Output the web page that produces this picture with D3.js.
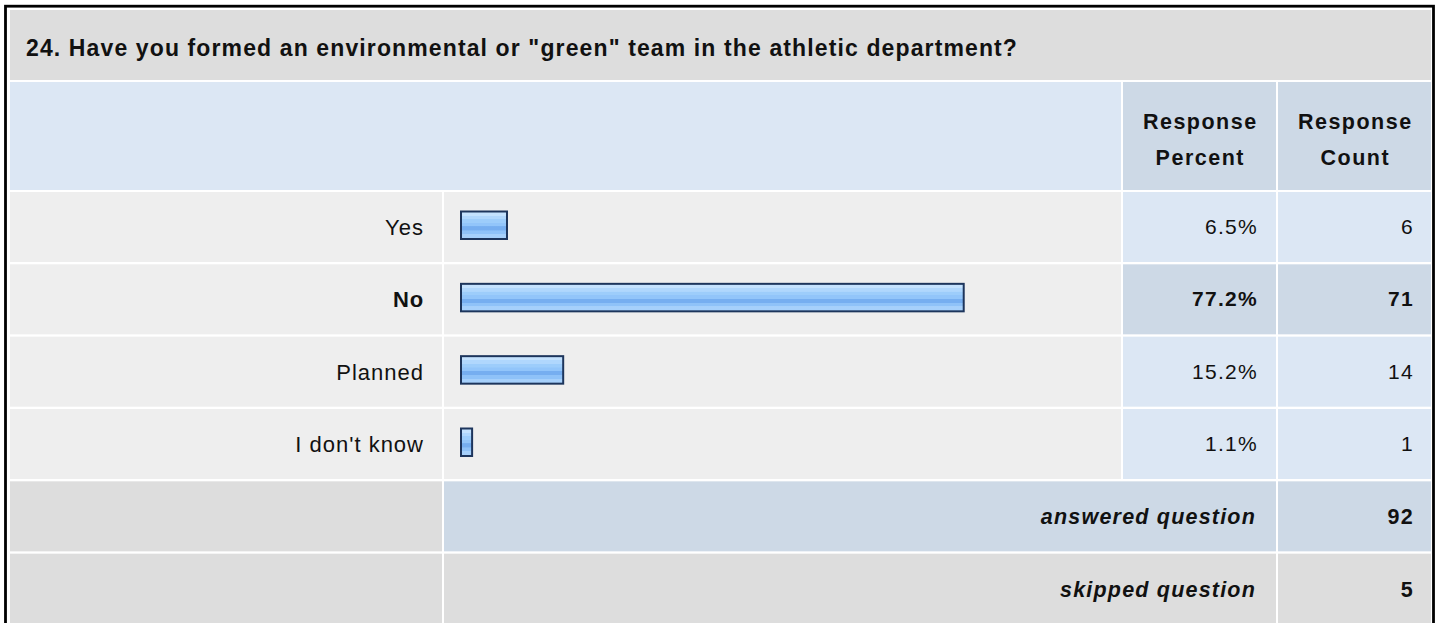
<!DOCTYPE html>
<html>
<head>
<meta charset="utf-8">
<script src="https://cdn.jsdelivr.net/npm/d3@7"></script>
<style>
  html, body { margin: 0; padding: 0; background: #ffffff; }
  svg { display: block; }
  text { font-family: "Liberation Sans", Arial, Helvetica, sans-serif; fill: #111; }
</style>
</head>
<body>
<svg id="chart" width="1440" height="623"></svg>
<script>
// ---------- data ----------
const questionTitle = '24. Have you formed an environmental or "green" team in the athletic department?';
const categories = ["Yes", "No", "Planned", "I don't know"];
const responsePercent = [6.5, 77.2, 15.2, 1.1];
const responseCount = [6, 71, 14, 1];
const headerPercent = ["Response", "Percent"];
const headerCount = ["Response", "Count"];
const summaryLabels = ["answered question", "skipped question"];
const summaryValues = [92, 5];

// ---------- layout ----------
const svg = d3.select("#chart");

const col = {
  label: [10, 442],
  bar: [444, 1121],
  pct: [1123, 1276],
  cnt: [1278, 1431]
};
const titleRow = [10, 80];
const headerRow = [82, 190];

const C = {
  title: "#dddddd",
  header: "#dce7f4",
  headerDark: "#cdd9e6",
  rowLight: "#eeeeee",
  valLight: "#dce7f4",
  valDark: "#cdd9e6",
  gray: "#dddddd"
};

// outer border
svg.append("rect")
  .attr("x", 5.5).attr("y", 6.2).attr("width", 1428).attr("height", 640)
  .attr("fill", "#ffffff").attr("stroke", "#000").attr("stroke-width", 2.8);

// title row
svg.append("rect").attr("x", col.label[0]).attr("y", titleRow[0])
  .attr("width", col.cnt[1] - col.label[0]).attr("height", titleRow[1] - titleRow[0])
  .attr("fill", C.title);
svg.append("text").attr("x", 26).attr("y", 56)
  .attr("font-size", 23).attr("font-weight", "bold").attr("letter-spacing", 1.12)
  .text(questionTitle);

// header row
svg.append("rect").attr("x", col.label[0]).attr("y", headerRow[0])
  .attr("width", col.bar[1] - col.label[0]).attr("height", headerRow[1] - headerRow[0])
  .attr("fill", C.header);
[[col.pct, headerPercent], [col.cnt, headerCount]].forEach(([c, lines]) => {
  svg.append("rect").attr("x", c[0]).attr("y", headerRow[0])
    .attr("width", c[1] - c[0]).attr("height", headerRow[1] - headerRow[0])
    .attr("fill", C.headerDark);
  lines.forEach((t, i) => {
    svg.append("text").attr("x", (c[0] + c[1]) / 2 + 0.8).attr("y", 129 + i * 36)
      .attr("text-anchor", "middle").attr("font-size", 21.5).attr("font-weight", "bold")
      .attr("letter-spacing", 1.5).text(t);
  });
});

// row scale (answer rows + summary rows)
const allRows = categories.concat(summaryLabels);
const yBand = d3.scaleBand().domain(allRows).range([192, 192 + allRows.length * 72])
  .paddingInner(2 / 72).paddingOuter(0);

const x = d3.scaleLinear().domain([0, 100]).range([0, 646]);
const maxIdx = responsePercent.indexOf(d3.max(responsePercent));

// gradient for bars
const defs = svg.append("defs");
const grad = defs.append("linearGradient").attr("id", "barGrad")
  .attr("x1", 0).attr("y1", 0).attr("x2", 0).attr("y2", 1);
[
  [0, "#c4e2fe"], [0.12, "#c4e2fe"], [0.13, "#b0d7fd"], [0.26, "#b0d7fd"],
  [0.27, "#9dcdfb"], [0.40, "#9dcdfb"], [0.41, "#92c5fa"], [0.54, "#92c5fa"],
  [0.55, "#76aef0"], [0.70, "#76aef0"], [0.71, "#8fc2f8"], [0.84, "#8fc2f8"],
  [0.85, "#a6d0fb"], [1, "#a6d0fb"]
].forEach(([o, c]) => grad.append("stop").attr("offset", o).attr("stop-color", c));

const rowH = 70;
categories.forEach((cat, i) => {
  const y0 = yBand(cat);
  const bold = i === maxIdx;
  svg.append("rect").attr("x", col.label[0]).attr("y", y0)
    .attr("width", col.label[1] - col.label[0]).attr("height", rowH).attr("fill", C.rowLight);
  svg.append("rect").attr("x", col.bar[0]).attr("y", y0)
    .attr("width", col.bar[1] - col.bar[0]).attr("height", rowH).attr("fill", C.rowLight);
  svg.append("rect").attr("x", col.pct[0]).attr("y", y0)
    .attr("width", col.pct[1] - col.pct[0]).attr("height", rowH)
    .attr("fill", bold ? C.valDark : C.valLight);
  svg.append("rect").attr("x", col.cnt[0]).attr("y", y0)
    .attr("width", col.cnt[1] - col.cnt[0]).attr("height", rowH)
    .attr("fill", bold ? C.valDark : C.valLight);

  svg.append("text").attr("x", 424).attr("y", y0 + 43)
    .attr("text-anchor", "end").attr("font-size", 22)
    .attr("font-weight", bold ? "bold" : "normal").attr("letter-spacing", bold ? 0.8 : 1.0)
    .text(cat);

  // bar
  const bw = x(responsePercent[i]) + 6;
  svg.append("rect").attr("x", 460).attr("y", y0 + 18.5)
    .attr("width", bw).attr("height", 29.5).attr("fill", "#1d355c");
  svg.append("rect").attr("x", 462).attr("y", y0 + 20.5)
    .attr("width", Math.max(bw - 4, 0)).attr("height", 25.5).attr("fill", "url(#barGrad)");

  svg.append("text").attr("x", 1258).attr("y", y0 + 42)
    .attr("text-anchor", "end").attr("font-size", 21)
    .attr("font-weight", bold ? "bold" : "normal").attr("letter-spacing", 1.3)
    .text(responsePercent[i].toFixed(1) + "%");
  svg.append("text").attr("x", 1414).attr("y", y0 + 42)
    .attr("text-anchor", "end").attr("font-size", 21)
    .attr("font-weight", bold ? "bold" : "normal").attr("letter-spacing", 1.3)
    .text(responseCount[i]);
});

// summary rows
summaryLabels.forEach((lab, i) => {
  const y0 = yBand(lab);
  const midFill = i === 0 ? C.valDark : C.gray;
  svg.append("rect").attr("x", col.label[0]).attr("y", y0)
    .attr("width", col.label[1] - col.label[0]).attr("height", rowH).attr("fill", C.gray);
  svg.append("rect").attr("x", col.bar[0]).attr("y", y0)
    .attr("width", col.pct[1] - col.bar[0]).attr("height", rowH).attr("fill", midFill);
  svg.append("rect").attr("x", col.cnt[0]).attr("y", y0)
    .attr("width", col.cnt[1] - col.cnt[0]).attr("height", rowH).attr("fill", midFill);
  svg.append("text").attr("x", 1256).attr("y", y0 + 43)
    .attr("text-anchor", "end").attr("font-size", 21.5).attr("font-weight", "bold")
    .attr("font-style", "italic").attr("letter-spacing", 1.2).text(lab);
  svg.append("text").attr("x", 1414).attr("y", y0 + 43)
    .attr("text-anchor", "end").attr("font-size", 21.5).attr("font-weight", "bold")
    .attr("letter-spacing", 1.3).text(summaryValues[i]);
});
</script>
</body>
</html>
